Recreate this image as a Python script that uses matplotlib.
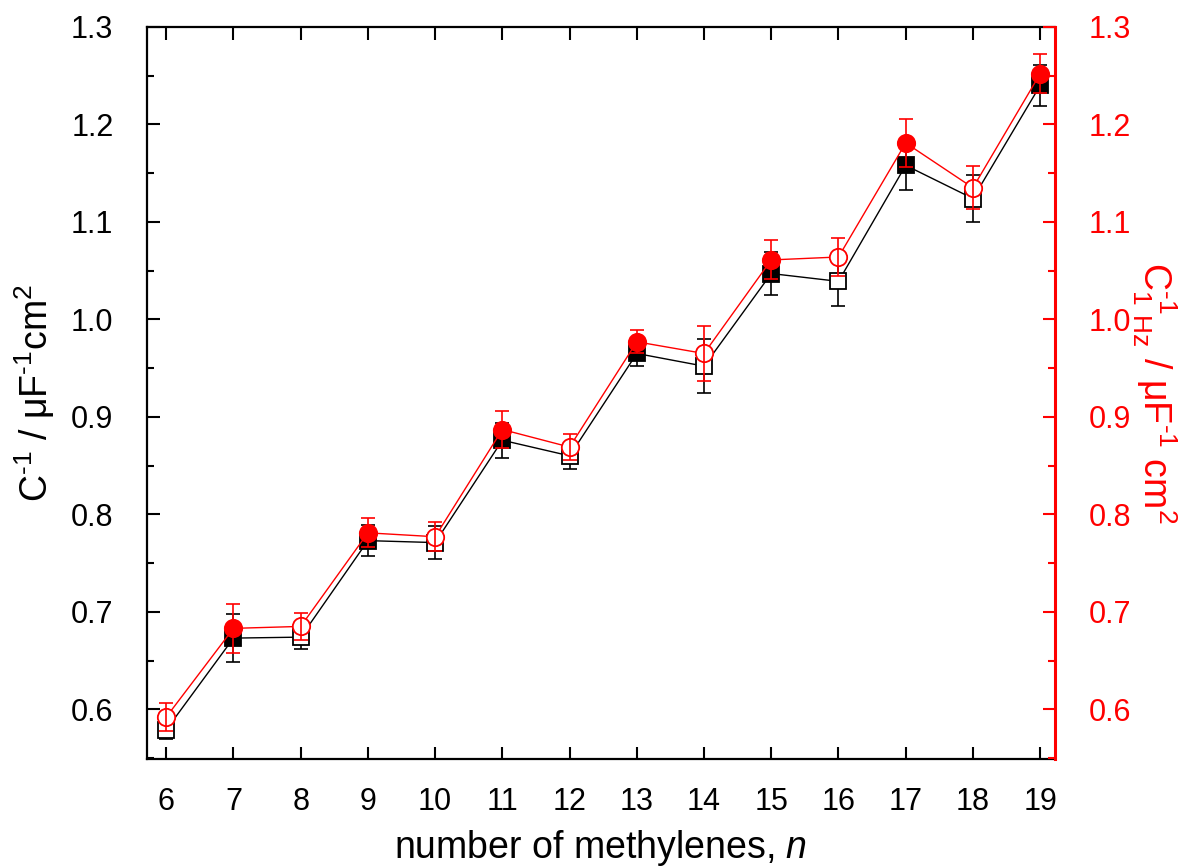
import matplotlib
matplotlib.use('Agg')
import matplotlib.pyplot as plt
import numpy as np
from matplotlib.ticker import MultipleLocator

plt.rcParams['font.family'] = ['Liberation Sans', 'DejaVu Sans']
plt.rcParams['mathtext.fontset'] = 'custom'
plt.rcParams['mathtext.rm'] = 'Liberation Sans'
plt.rcParams['mathtext.it'] = 'Liberation Sans:italic'

n_values = [6, 7, 8, 9, 10, 11, 12, 13, 14, 15, 16, 17, 18, 19]

# inverse capacitance (left axis)
inv_cap = [0.579, 0.673, 0.674, 0.773, 0.771, 0.876, 0.860, 0.965,
           0.952, 1.047, 1.039, 1.158, 1.124, 1.240]
inv_cap_err = [0.010, 0.025, 0.012, 0.016, 0.017, 0.018, 0.013, 0.013,
               0.028, 0.022, 0.025, 0.025, 0.024, 0.021]

# inverse capacitance at 1 Hz (right axis)
inv_cap_1hz = [0.592, 0.683, 0.685, 0.781, 0.777, 0.887, 0.869, 0.977,
               0.965, 1.061, 1.064, 1.181, 1.135, 1.252]
inv_cap_1hz_err = [0.014, 0.025, 0.014, 0.015, 0.015, 0.019, 0.013, 0.012,
                   0.028, 0.020, 0.020, 0.025, 0.022, 0.020]


def _style_axis(ax, color):
    ax.tick_params(axis='both', which='major', direction='in', length=9,
                   width=1.5, labelsize=22, colors=color)
    ax.tick_params(axis='both', which='minor', direction='in', length=5,
                   width=1.5, colors=color)


def main():
    n = np.array(n_values)
    odd = n % 2 == 1
    even = ~odd

    fig = plt.figure(figsize=(11.98, 8.67), dpi=100)
    ax = fig.add_axes([0.1225, 0.1246, 0.7581, 0.8443])
    ax2 = ax.twinx()

    y1 = np.array(inv_cap)
    y2 = np.array(inv_cap_1hz)

    ax.errorbar(n, y1, yerr=inv_cap_err, fmt='none', ecolor='black',
                elinewidth=1.2, capsize=5, capthick=1.2, zorder=2)
    ax.plot(n, y1, '-', color='black', lw=1.0, zorder=1)
    ax.plot(n[odd], y1[odd], 's', color='black', mfc='black', ms=11.5,
            mew=1.3, zorder=3)
    ax.plot(n[even], y1[even], 's', color='black', mfc='white', ms=11.5,
            mew=1.3, zorder=3)

    ax2.plot(n, y2, '-', color='red', lw=1.0, zorder=1)
    ax2.plot(n[odd], y2[odd], 'o', color='red', mfc='red', ms=12.5,
             mew=1.3, zorder=3)
    ax2.plot(n[even], y2[even], 'o', color='red', mfc='white', ms=12.5,
             mew=1.3, zorder=3)
    ax2.errorbar(n, y2, yerr=inv_cap_1hz_err, fmt='none', ecolor='red',
                 elinewidth=1.2, capsize=5, capthick=1.2, zorder=4)

    for a in (ax, ax2):
        a.set_xlim(5.71, 19.22)
        a.set_ylim(0.549, 1.3)
        a.yaxis.set_major_locator(MultipleLocator(0.1))
        a.yaxis.set_minor_locator(MultipleLocator(0.05))
        a.yaxis.set_major_formatter(plt.FormatStrFormatter('%.1f'))

    ax.set_xticks(n_values)
    ax.tick_params(top=True)
    _style_axis(ax, 'black')
    _style_axis(ax2, 'red')
    ax.tick_params(axis='x', pad=20)
    ax.tick_params(axis='y', pad=24)
    ax2.tick_params(axis='y', pad=24)
    ax2.tick_params(axis='y', which='both', left=False, labelleft=False)

    for side in ('left', 'bottom', 'top'):
        ax.spines[side].set_linewidth(1.6)
    ax.spines['right'].set_visible(False)
    for side in ('left', 'bottom', 'top'):
        ax2.spines[side].set_visible(False)
    ax2.spines['right'].set_color('red')
    ax2.spines['right'].set_linewidth(2.2)

    ax.set_xlabel('number of methylenes, $n$', fontsize=27, labelpad=8)
    ax.set_ylabel(r'$\mathrm{C^{\text{-}1}}$ / '
                  r'$\mathrm{\mu F^{\text{-}1}cm^{2}}$',
                  fontsize=27, labelpad=10)
    ax2.set_ylabel(r'$\mathrm{C^{\text{-}1}_{1\;\,Hz}}$ / '
                   r'$\mathrm{\mu F^{\text{-}1}}$ $\mathrm{cm^{2}}$',
                   fontsize=27, color='red', rotation=270, labelpad=34)

    fig.savefig('out.png', dpi=100)


if __name__ == '__main__':
    main()
